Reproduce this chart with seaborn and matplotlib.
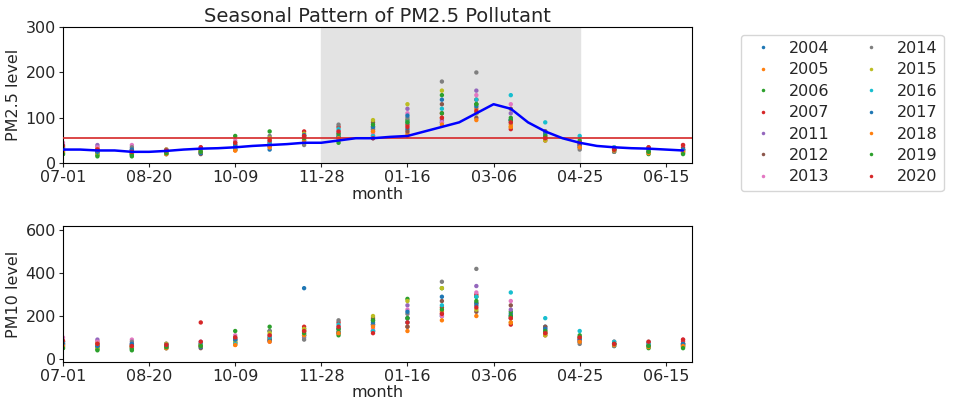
import numpy as np
import pandas as pd
import matplotlib
matplotlib.use("Agg")
import matplotlib.pyplot as plt
import seaborn as sns

years = [2004, 2005, 2006, 2007, 2011, 2012, 2013, 2014, 2015, 2016, 2017, 2018, 2019, 2020]
day_idx = list(range(0, 361, 20))
tick_pos = [0, 50, 100, 150, 200, 250, 300, 350]
tick_labels = ["07-01", "08-20", "10-09", "11-28", "01-16", "03-06", "04-25", "06-15"]

pm25 = {
    2004: [40, 25, 20, 28, 22, 35, 30, 45, 60, 55, 75, 90, 110, 95, 70, 45, 30, 28, 30],
    2005: [30, 35, 22, 25, 30, 28, 40, 55, 50, 70, 65, 100, 120, 85, 60, 40, 35, 25, 28],
    2006: [20, 18, 15, 20, 25, 30, 55, 60, 45, 80, 95, 150, 130, 100, 55, 35, 25, 20, 22],
    2007: [35, 30, 25, 22, 28, 40, 45, 70, 80, 60, 85, 110, 140, 75, 50, 40, 30, 32, 35],
    2011: [25, 40, 30, 20, 35, 30, 50, 45, 65, 75, 120, 95, 160, 110, 65, 35, 28, 30, 25],
    2012: [30, 22, 28, 30, 20, 35, 40, 60, 55, 90, 70, 130, 100, 120, 70, 45, 30, 25, 30],
    2013: [45, 35, 40, 30, 25, 50, 35, 55, 70, 65, 110, 90, 150, 130, 60, 40, 35, 30, 40],
    2014: [28, 30, 35, 25, 30, 45, 60, 40, 85, 75, 100, 180, 200, 90, 55, 30, 25, 35, 30],
    2015: [22, 20, 25, 30, 28, 35, 55, 65, 60, 95, 130, 160, 110, 80, 50, 45, 30, 28, 25],
    2016: [35, 28, 20, 22, 30, 30, 45, 50, 75, 60, 90, 120, 140, 150, 90, 60, 35, 30, 28],
    2017: [30, 25, 30, 28, 22, 40, 38, 62, 58, 80, 105, 140, 125, 95, 65, 40, 30, 25, 30],
    2018: [25, 30, 22, 20, 25, 28, 35, 50, 55, 70, 60, 85, 95, 80, 55, 35, 28, 22, 25],
    2019: [20, 15, 18, 22, 25, 60, 70, 55, 65, 85, 90, 110, 130, 95, 60, 50, 30, 25, 20],
    2020: [38, 30, 25, 28, 35, 45, 50, 60, 70, 55, 80, 100, 115, 90, 55, 45, 30, 35, 40],
}
pm10 = {
    2004: [80, 60, 55, 70, 65, 90, 85, 110, 140, 130, 170, 200, 250, 210, 150, 100, 70, 65, 70],
    2005: [70, 80, 50, 60, 70, 65, 95, 130, 120, 160, 150, 220, 260, 190, 130, 90, 80, 60, 65],
    2006: [50, 45, 40, 50, 60, 75, 130, 140, 110, 180, 280, 330, 290, 220, 120, 80, 60, 50, 55],
    2007: [80, 70, 60, 55, 170, 95, 100, 150, 170, 130, 190, 240, 300, 160, 110, 90, 70, 75, 80],
    2011: [60, 90, 70, 50, 80, 75, 110, 100, 140, 160, 250, 210, 340, 230, 140, 80, 65, 70, 60],
    2012: [70, 55, 65, 70, 50, 85, 90, 130, 120, 190, 150, 270, 220, 250, 150, 100, 70, 60, 70],
    2013: [100, 80, 90, 70, 60, 110, 80, 120, 150, 140, 230, 200, 310, 270, 130, 90, 80, 70, 90],
    2014: [65, 70, 80, 60, 70, 100, 130, 90, 180, 160, 210, 360, 420, 190, 120, 70, 60, 80, 70],
    2015: [55, 50, 60, 70, 65, 80, 120, 140, 130, 200, 270, 330, 230, 170, 110, 100, 70, 65, 60],
    2016: [80, 65, 50, 55, 70, 70, 100, 110, 160, 130, 190, 250, 290, 310, 190, 130, 80, 70, 65],
    2017: [70, 60, 70, 65, 55, 90, 85, 330, 125, 170, 220, 290, 260, 200, 140, 90, 70, 60, 70],
    2018: [60, 70, 55, 50, 60, 65, 80, 110, 120, 150, 130, 180, 200, 170, 120, 80, 65, 55, 60],
    2019: [50, 40, 45, 55, 60, 130, 150, 120, 140, 180, 190, 230, 270, 200, 130, 110, 70, 60, 50],
    2020: [85, 70, 60, 65, 80, 100, 110, 130, 150, 120, 170, 210, 240, 190, 120, 100, 70, 80, 90],
}
mean_days = list(range(0, 361, 10))
pm25_mean = [30, 30, 28, 28, 25, 25, 27, 30, 32, 33, 35, 38, 40, 42, 45, 45, 50, 55, 55,
             58, 60, 70, 80, 90, 110, 130, 120, 90, 70, 55, 45, 38, 35, 33, 32, 30, 28]
pm25_ref = 55

rows = []
for y in years:
    for d, a, b in zip(day_idx, pm25[y], pm10[y]):
        rows.append({"day": d, "year": str(y), "pm25": a, "pm10": b})
df = pd.DataFrame(rows)

sns.set_style("white")
plt.rcParams["font.size"] = 11.5
plt.rcParams["font.family"] = ["DejaVu Sans"]
palette = sns.color_palette("tab10", 10)
colors = [palette[i % 10] for i in range(len(years))]

fig = plt.figure(figsize=(9.54, 4.11), dpi=100)
ax1 = fig.add_axes([0.066, 0.603, 0.659, 0.331])
ax2 = fig.add_axes([0.066, 0.119, 0.659, 0.331])

ax1.axvspan(150, 300, color="0.89", zorder=0)
sns.scatterplot(data=df, x="day", y="pm25", hue="year", palette=colors, s=10,
                linewidth=0, ax=ax1, zorder=2)
ax1.plot([0, 365], [pm25_ref, pm25_ref], color="#d62728", lw=1.2, zorder=3)
sns.lineplot(x=mean_days, y=pm25_mean, color="blue", lw=1.8, ax=ax1, zorder=4)
sns.scatterplot(data=df, x="day", y="pm10", hue="year", palette=colors, s=10,
                linewidth=0, ax=ax2, legend=False)

for ax, lab in [(ax1, "PM2.5 level"), (ax2, "PM10 level")]:
    ax.set_xlim(0, 365)
    ax.set_xticks(tick_pos)
    ax.set_xticklabels(tick_labels)
    ax.set_xlabel("month", labelpad=1)
    ax.set_ylabel(lab, labelpad=3)
    for s in ax.spines.values():
        s.set_color("black")
        s.set_linewidth(0.8)
    ax.tick_params(bottom=True, left=True, length=3, pad=2)
ax1.set_ylim(0, 300)
ax1.set_yticks([0, 100, 200, 300])
ax2.set_ylim(-15, 620)
ax2.set_yticks([0, 200, 400, 600])
ax1.set_title("Seasonal Pattern of PM2.5 Pollutant", fontsize=14, pad=4)

h, l = ax1.get_legend_handles_labels()
ax1.legend(h, l, ncol=2, loc="upper left", bbox_to_anchor=(0.768, 0.935),
           bbox_transform=fig.transFigure, markerscale=0.8, handletextpad=0.6,
           columnspacing=1.6, labelspacing=0.4, frameon=True)

fig.savefig("out.png", dpi=100)
